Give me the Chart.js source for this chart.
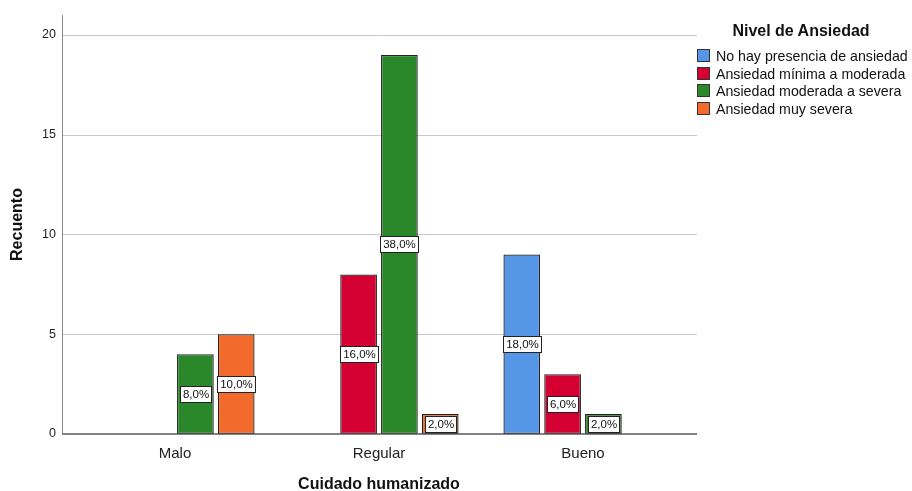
<!DOCTYPE html>
<html>
<head>
<meta charset="utf-8">
<script src="https://cdn.jsdelivr.net/npm/chart.js@4/dist/chart.umd.min.js"></script>
<style>
  body { margin: 0; background: #fff; font-family: "Liberation Sans", Arial, sans-serif; }
  #wrap { position: relative; width: 912px; height: 491px; }
  #legend { position: absolute; left: 697px; top: 20px; color: #111; }
  #legend .title { font-weight: bold; font-size: 16px; width: 216px; text-align: center; margin-left: -4px; height: 28px; line-height: 22px; }
  #legend .item { font-size: 14.2px; height: 17.7px; line-height: 17.7px; white-space: nowrap; }
  #legend .box { display: inline-block; width: 11px; height: 11px; border: 1px solid #333; vertical-align: -1px; margin-right: 6px; }
</style>
</head>
<body>
<div id="wrap">
  <canvas id="grafico" width="912" height="491"></canvas>
  <div id="legend"></div>
</div>
<script>
// datos
const categorias = ["Malo", "Regular", "Bueno"];
const series = [
  "No hay presencia de ansiedad",
  "Ansiedad mínima a moderada",
  "Ansiedad moderada a severa",
  "Ansiedad muy severa"
];
const noHay = [0, 0, 9];
const minimaModerada = [0, 8, 3];
const moderadaSevera = [4, 19, 1];
const muySevera = [5, 1, 0];
const colores = ["#5596E6", "#D50032", "#2A872A", "#F26A2C"];
const ticksY = [0, 5, 10, 15, 20];

const valores = [noHay, minimaModerada, moderadaSevera, muySevera];
const total = valores.flat().reduce((a, b) => a + b, 0);

// leyenda
const leg = document.getElementById("legend");
leg.innerHTML = '<div class="title">Nivel de Ansiedad</div>' +
  series.map((s, i) => `<div class="item"><span class="box" style="background:${colores[i]}"></span>${s}</div>`).join("");

// lineas de cuadricula y ejes (se extienden un poco fuera del area)
const ejesPlugin = {
  id: "ejes",
  beforeDatasetsDraw(chart) {
    const { ctx, chartArea } = chart;
    const y = chart.scales.y;
    const x0 = chartArea.left - 11, x1 = chartArea.right + 12;
    ctx.save();
    ctx.lineWidth = 1;
    ctx.strokeStyle = "#c8c8c8";
    ticksY.forEach(t => {
      if (t === 0) return;
      const py = Math.round(y.getPixelForValue(t)) + 0.5;
      ctx.beginPath(); ctx.moveTo(x0, py); ctx.lineTo(x1, py); ctx.stroke();
    });
    ctx.strokeStyle = "#8a8a8a";
    ctx.beginPath(); ctx.moveTo(x0 + 0.5, chartArea.top); ctx.lineTo(x0 + 0.5, chartArea.bottom); ctx.stroke();
    ctx.restore();
  },
  afterDatasetsDraw(chart) {
    const { ctx, chartArea } = chart;
    const py = Math.round(chart.scales.y.getPixelForValue(0));
    ctx.save();
    ctx.strokeStyle = "#5a5a5a";
    ctx.lineWidth = 1.5;
    ctx.beginPath(); ctx.moveTo(chartArea.left - 11, py); ctx.lineTo(chartArea.right + 12, py); ctx.stroke();
    ctx.restore();
  }
};

// etiquetas de porcentaje
const etiquetasPlugin = {
  id: "etiquetas",
  afterDatasetsDraw(chart) {
    const ctx = chart.ctx;
    ctx.save();
    ctx.font = '11.5px "Liberation Sans", Arial, sans-serif';
    ctx.textAlign = "center";
    ctx.textBaseline = "middle";
    chart.data.datasets.forEach((ds, i) => {
      chart.getDatasetMeta(i).data.forEach((bar, j) => {
        const v = ds.data[j];
        if (!v) return;
        const txt = (v / total * 100).toFixed(1).replace(".", ",") + "%";
        const w = Math.round(ctx.measureText(txt).width) + 5;
        const h = 16;
        const cy = Math.round((bar.y + bar.base) / 2);
        const bx = Math.round(bar.x - w / 2) + 0.5;
        const by = Math.round(cy - h / 2) + 0.5;
        ctx.fillStyle = "#fff";
        ctx.fillRect(bx, by, w, h);
        ctx.strokeStyle = "#222";
        ctx.lineWidth = 1;
        ctx.strokeRect(bx, by, w, h);
        ctx.fillStyle = "#111";
        ctx.fillText(txt, bx + w / 2, cy + 1);
      });
    });
    ctx.restore();
  }
};

new Chart(document.getElementById("grafico"), {
  type: "bar",
  data: {
    labels: categorias,
    datasets: series.map((s, i) => ({
      label: s,
      data: valores[i],
      backgroundColor: colores[i],
      borderColor: "#222",
      borderWidth: 1.3,
      borderSkipped: false,
      categoryPercentage: 0.8,
      barPercentage: 0.9
    }))
  },
  options: {
    responsive: false,
    animation: false,
    layout: { padding: { top: 15, right: 227, left: 0, bottom: 0 } },
    plugins: { legend: { display: false }, tooltip: { enabled: false } },
    scales: {
      x: {
        grid: { display: false, drawTicks: false },
        border: { display: false },
        afterFit(scale) { scale.height = 57; scale.paddingLeft = 0; scale.paddingRight = 0; },
        ticks: { padding: 11, color: "#222", font: { size: 15, family: '"Liberation Sans", Arial, sans-serif' } },
        title: {
          display: true,
          text: "Cuidado humanizado",
          color: "#111",
          padding: { top: 0, bottom: 0 },
          font: { size: 16, weight: "bold", lineHeight: 0.75, family: '"Liberation Sans", Arial, sans-serif' }
        }
      },
      y: {
        min: 0,
        max: 21,
        grid: { display: false, drawTicks: false },
        border: { display: false },
        afterFit(scale) { scale.width = 73; scale.paddingTop = 0; scale.paddingBottom = 0; },
        afterBuildTicks(scale) { scale.ticks = ticksY.map(v => ({ value: v })); },
        ticks: { padding: 17, color: "#222", font: { size: 12.5, family: '"Liberation Sans", Arial, sans-serif' } },
        title: {
          display: true,
          text: "Recuento",
          color: "#111",
          padding: { top: 8, bottom: 0 },
          font: { size: 16, weight: "bold", family: '"Liberation Sans", Arial, sans-serif' }
        }
      }
    }
  },
  plugins: [ejesPlugin, etiquetasPlugin]
});
</script>
</body>
</html>
